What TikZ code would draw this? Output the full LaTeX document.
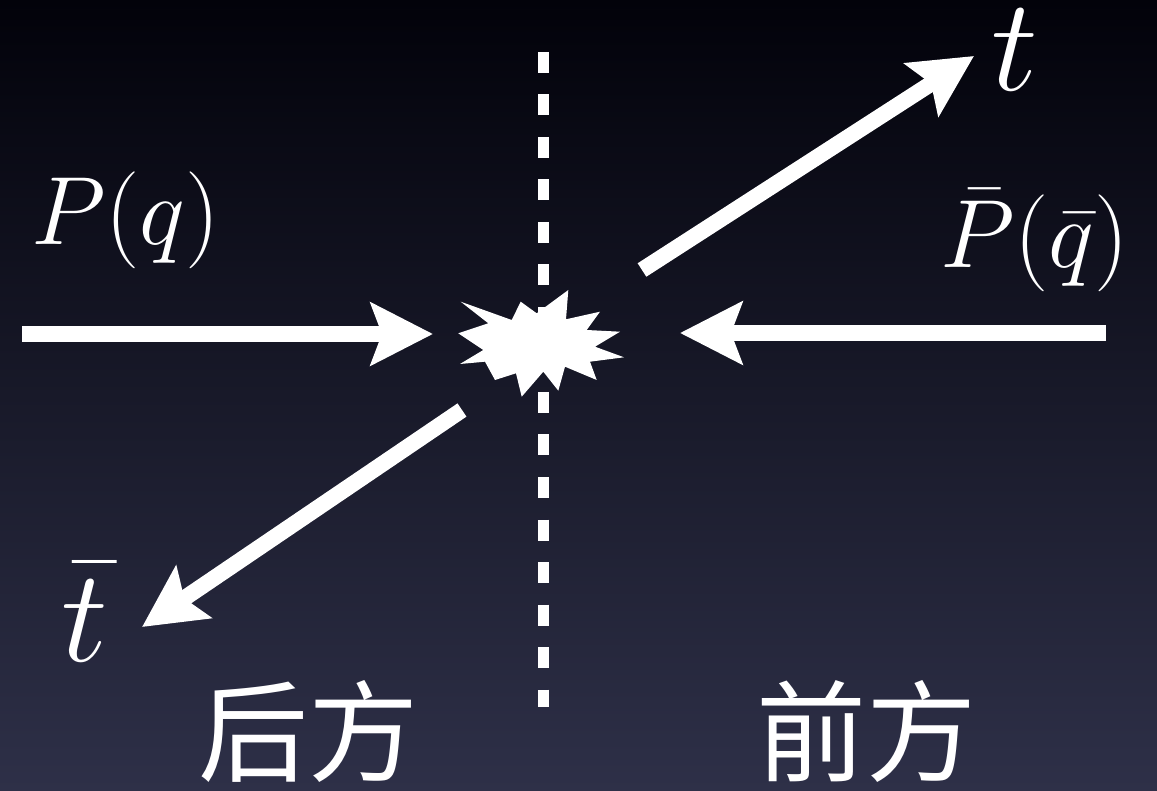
\RequirePackage{fix-cm}
\documentclass[tikz,border=0pt]{standalone}
\usepackage{fontspec}
\newfontfamily\cjk{Noto Sans CJK SC}
\usetikzlibrary{arrows.meta}
\definecolor{bgtop}{RGB}{2,2,10}
\definecolor{bgmid}{RGB}{16,17,42}
\definecolor{bgbot}{RGB}{46,48,72}
\begin{document}
\begin{tikzpicture}[x=1pt,y=-1pt,
  arr/.style={white, line width=16pt, -{Stealth[length=62pt,width=62pt,inset=11pt]}},
  lbl/.style={text=white, inner sep=0pt, outer sep=0pt},
  mathlbl/.style={lbl, font=\fontsize{97}{97}\selectfont},
  tlbl/.style={lbl, font=\fontsize{132}{132}\selectfont},
  cjklbl/.style={lbl, font=\cjk\fontsize{110}{110}\selectfont},
  divider/.style={white, line width=11pt, dash pattern=on 21pt off 21.5pt}]
\shade[top color=bgtop, middle color=bgmid, bottom color=bgbot] (0,0) rectangle (1157,791);
\useasboundingbox (0,0) rectangle (1157,791);

% divider
\coordinate (vtop) at (543,52);
\coordinate (vbot) at (543,707);
\draw[divider] (vtop) -- (vbot);

% burst
\fill[white] (460.7,301.7) -- (511.7,320) -- (520.7,301.7) -- (536.7,313.3) -- (568.3,290)
  -- (566,319.3) -- (600,311.7) -- (586.7,330) -- (620,331.7) -- (595,346.7)
  -- (624,357.3) -- (590,361.7) -- (596.7,380) -- (565,366.7) -- (558.3,390.7)
  -- (543.3,371.7) -- (521.7,396.7) -- (516,373.3) -- (495,380) -- (485,361.7)
  -- (460,364) -- (483.3,350) -- (458.3,333.3) -- (488.3,323.3) -- cycle;

% arrows
\coordinate (lA) at (22,334);   \coordinate (lB) at (433,334);
\coordinate (rA) at (1106,333); \coordinate (rB) at (680,333);
\coordinate (uA) at (642,270);  \coordinate (uB) at (974,56);
\coordinate (dA) at (462,410);  \coordinate (dB) at (142,627);
\draw[arr] (lA) -- (lB);
\draw[arr] (rA) -- (rB);
\draw[arr] (uA) -- (uB);
\draw[arr] (dA) -- (dB);

% labels
\node[mathlbl, anchor=base west] (pq) at (31,245) {$P(q)$};
\node[mathlbl, anchor=base west] (pbq) at (940,268) {$\bar P(\bar q)$};
\node[tlbl, anchor=base west] (t) at (991,91) {$t$};
\node[tlbl, anchor=base west] (tb) at (61,661) {$\bar t$};
\node[cjklbl] (back) at (308,731) {后方};
\node[cjklbl] (front) at (866,731) {前方};
\end{tikzpicture}
\end{document}
